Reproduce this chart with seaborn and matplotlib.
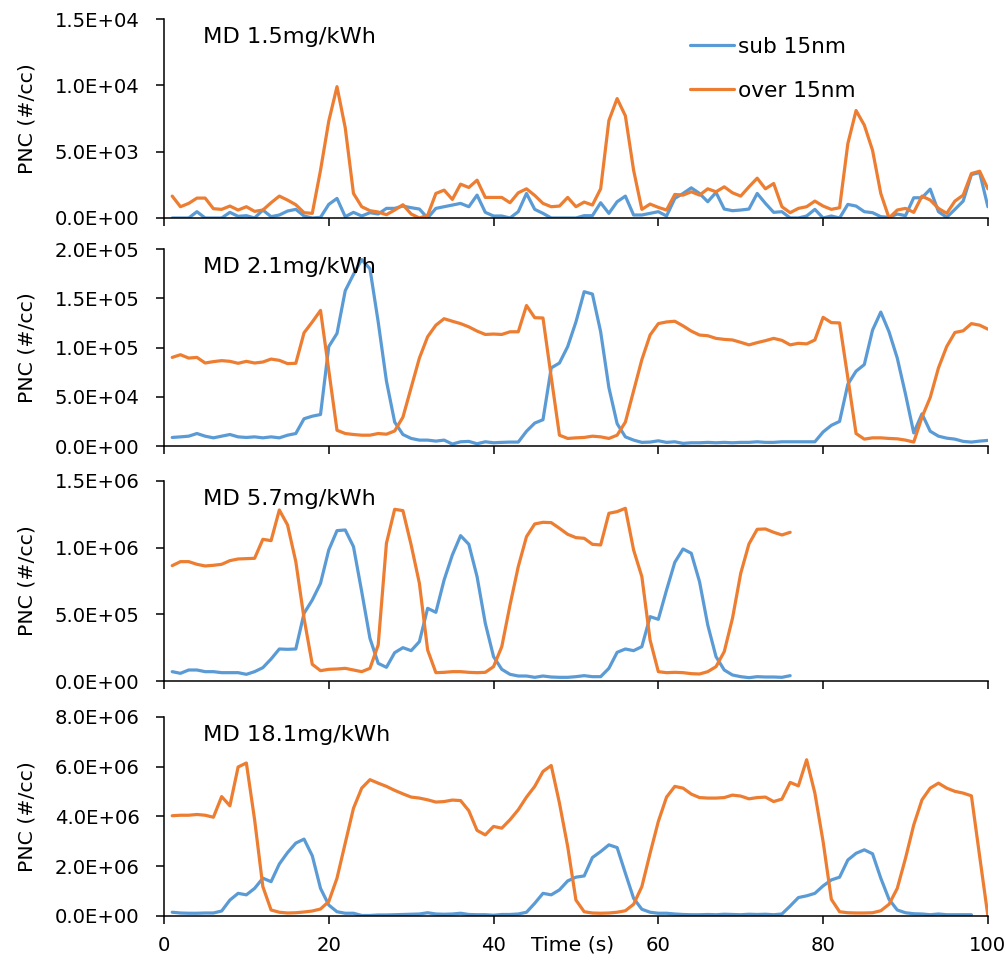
import numpy as np
import pandas as pd
import matplotlib
matplotlib.use("Agg")
import matplotlib.pyplot as plt
import seaborn as sns

# time axis (s)
time = np.arange(1, 101)

# MD 1.5mg/kWh
sub_1 = [0, 0, 0, 475, 0, 0, 0, 425, 125, 175,
         0, 600, 100, 225, 525, 650, 150, 0, 50, 1025,
         1475, 100, 425, 150, 400, 300, 725, 725, 900, 775,
         675, 0, 725, 850, 975, 1100, 850, 1725, 425, 150,
         150, 0, 475, 1850, 650, 350, 0, 0, 0, 0,
         175, 175, 1150, 350, 1225, 1650, 225, 225, 350, 475,
         150, 1475, 1850, 2275, 1850, 1225, 1925, 675, 550, 600,
         675, 1850, 1100, 425, 475, 0, 0, 150, 650, 0,
         150, 0, 1025, 900, 475, 400, 100, 50, 300, 175,
         1525, 1525, 2175, 475, 50, 650, 1275, 3275, 3425, 850]
over_1 = [1650, 850, 1100, 1500, 1500, 700, 650, 900, 600, 850,
          500, 600, 1150, 1650, 1350, 1000, 400, 350, 3600, 7300,
          9900, 6800, 1850, 850, 550, 450, 250, 600, 1000, 300,
          0, 200, 1850, 2100, 1400, 2550, 2300, 2850, 1550, 1550,
          1550, 1150, 1900, 2200, 1700, 1100, 850, 900, 1550, 850,
          1200, 975, 2200, 7350, 9000, 7700, 3600, 650, 1050, 800,
          600, 1775, 1725, 1975, 1725, 2200, 1975, 2350, 1900, 1650,
          2350, 3000, 2200, 2600, 850, 400, 725, 850, 1275, 900,
          650, 775, 5600, 8100, 7000, 5100, 1850, 0, 600, 725,
          425, 1650, 1350, 725, 350, 1275, 1725, 3350, 3525, 2200]

# MD 2.1mg/kWh
sub_2 = [8700, 9300, 10000, 12700, 10000, 8300, 10000, 11700, 9300, 8700,
         9300, 8300, 9300, 8300, 11000, 12700, 27700, 30300, 32000, 101000,
         114300, 157700, 174300, 189300, 180000, 126000, 66000, 24300, 11700, 7700,
         6000, 6000, 5000, 6000, 2000, 4300, 4700, 2300, 4300, 3300,
         3700, 4000, 4000, 15000, 23300, 26700, 79300, 84300, 101000, 126000,
         156700, 154300, 116000, 59300, 22700, 9300, 6000, 3700, 4000, 5300,
         3700, 4300, 2700, 3300, 3300, 3700, 3300, 3700, 3300, 3700,
         3700, 4300, 3700, 3700, 4300, 4300, 4300, 4300, 4300, 14300,
         21000, 25000, 62700, 76000, 82700, 117700, 136000, 116000, 89300, 52700,
         13300, 32700, 15000, 10000, 8000, 7000, 4700, 4000, 5000, 5700]
over_2 = [90000, 92700, 89300, 90000, 84300, 85700, 86700, 86000, 84000, 86000,
          84300, 85300, 88300, 87000, 83700, 84000, 115000, 126000, 137700, 77000,
          16000, 12700, 11700, 11000, 11000, 12700, 12000, 15300, 29300, 59300,
          89300, 111000, 122700, 129300, 126700, 124300, 121000, 116700, 113300, 113700,
          113300, 116000, 116000, 142700, 130300, 130000, 70000, 11000, 7700, 8300,
          8700, 10000, 9300, 7700, 11000, 24300, 56000, 87700, 112700, 124300,
          126000, 126700, 122000, 116700, 112700, 112000, 109300, 108300, 107700, 105300,
          102700, 105000, 107000, 109300, 107300, 102700, 104300, 103700, 107700, 130700,
          125300, 125000, 69300, 12700, 7000, 8300, 8300, 7700, 7300, 6000,
          4000, 29300, 49300, 79300, 101000, 115300, 117000, 124300, 122700, 118700]

# MD 5.7mg/kWh (76 s recorded)
sub_3 = [70000, 57500, 82500, 82500, 70000, 70000, 62500, 62500, 62500, 50000,
         70000, 100000, 165000, 240000, 237500, 240000, 507500, 607500, 732500, 982500,
         1127500, 1132500, 1007500, 670000, 320000, 132500, 102500, 212500, 250000, 227500,
         295000, 545000, 515000, 757500, 945000, 1090000, 1025000, 782500, 432500, 182500,
         87500, 50000, 37500, 37500, 27500, 37500, 30000, 27500, 27500, 32500,
         40000, 32500, 32500, 95000, 215000, 240000, 227500, 257500, 482500, 462500,
         682500, 890000, 990000, 957500, 745000, 420000, 182500, 82500, 45000, 32500,
         25000, 32500, 30000, 30000, 27500, 40000]
over_3 = [865000, 895000, 895000, 875000, 862500, 867500, 875000, 902500, 915000, 917500,
          920000, 1062500, 1052500, 1282500, 1170000, 895000, 470000, 125000, 77500, 87500,
          90000, 95000, 82500, 70000, 95000, 270000, 1032500, 1287500, 1277500, 1020000,
          732500, 232500, 62500, 65000, 70000, 70000, 65000, 62500, 65000, 107500,
          257500, 570000, 857500, 1082500, 1177500, 1190000, 1187500, 1145000, 1100000, 1075000,
          1070000, 1025000, 1020000, 1257500, 1270000, 1295000, 982500, 782500, 307500, 70000,
          62500, 65000, 62500, 55000, 52500, 70000, 107500, 220000, 470000, 807500,
          1027500, 1137500, 1140000, 1115000, 1095000, 1115000]

# MD 18.1mg/kWh (values in millions)
sub_4 = [0.15, 0.12, 0.11, 0.11, 0.12, 0.12, 0.20, 0.64, 0.91, 0.85,
         1.11, 1.52, 1.38, 2.09, 2.55, 2.93, 3.09, 2.42, 1.11, 0.44,
         0.17, 0.11, 0.11, 0.02, 0.02, 0.04, 0.04, 0.05, 0.06, 0.07,
         0.08, 0.13, 0.08, 0.07, 0.08, 0.11, 0.06, 0.05, 0.05, 0.03,
         0.06, 0.06, 0.08, 0.15, 0.51, 0.91, 0.85, 1.05, 1.41, 1.56,
         1.61, 2.35, 2.59, 2.86, 2.75, 1.72, 0.71, 0.27, 0.15, 0.11,
         0.11, 0.08, 0.06, 0.05, 0.05, 0.06, 0.05, 0.07, 0.06, 0.05,
         0.07, 0.06, 0.07, 0.05, 0.08, 0.40, 0.74, 0.81, 0.91, 1.21,
         1.45, 1.56, 2.25, 2.52, 2.66, 2.50, 1.52, 0.67, 0.24, 0.13,
         0.09, 0.08, 0.05, 0.08, 0.05, 0.05, 0.05, 0.05]
over_4 = [4.03, 4.05, 4.05, 4.08, 4.05, 3.97, 4.80, 4.43, 5.99, 6.15,
          3.87, 1.18, 0.24, 0.15, 0.12, 0.13, 0.16, 0.20, 0.28, 0.58,
          1.52, 2.93, 4.33, 5.14, 5.48, 5.34, 5.21, 5.05, 4.91, 4.78,
          4.74, 4.67, 4.58, 4.60, 4.66, 4.64, 4.23, 3.44, 3.26, 3.60,
          3.53, 3.87, 4.27, 4.78, 5.21, 5.81, 6.05, 4.54, 2.79, 0.64,
          0.17, 0.12, 0.11, 0.12, 0.15, 0.21, 0.47, 1.18, 2.52, 3.80,
          4.78, 5.21, 5.14, 4.90, 4.76, 4.74, 4.74, 4.76, 4.86, 4.82,
          4.71, 4.76, 4.78, 4.60, 4.70, 5.37, 5.23, 6.28, 4.94, 2.99,
          0.67, 0.17, 0.13, 0.12, 0.12, 0.13, 0.21, 0.47, 1.11, 2.32,
          3.66, 4.67, 5.14, 5.34, 5.14, 5.01, 4.94, 4.83, 2.40, 0.0]
sub_4 = [v * 1e6 for v in sub_4]
over_4 = [v * 1e6 for v in over_4]

titles = ["MD 1.5mg/kWh", "MD 2.1mg/kWh", "MD 5.7mg/kWh", "MD 18.1mg/kWh"]
y_max = [1.5e4, 2.0e5, 1.5e6, 8.0e6]
y_step = [5e3, 5e4, 5e5, 2e6]
series_names = ["sub 15nm", "over 15nm"]
colors = {"sub 15nm": "#5B9BD5", "over 15nm": "#ED7D31"}

sns.set_style("ticks")
plt.rcParams["font.family"] = ["DejaVu Sans"]
plt.rcParams["text.color"] = "black"
plt.rcParams["axes.labelcolor"] = "black"

fig = plt.figure(figsize=(10.06, 9.65), dpi=100)

# axes boxes in figure fractions (left, bottom, width, height)
boxes = [(0.163, 0.7741, 0.819, 0.2062),
         (0.163, 0.5378, 0.819, 0.2041),
         (0.163, 0.2943, 0.819, 0.2073),
         (0.163, 0.0508, 0.819, 0.2062)]
panels = [(sub_1, over_1), (sub_2, over_2), (sub_3, over_3), (sub_4, over_4)]

for k, (sub, over) in enumerate(panels):
    ax = fig.add_axes(boxes[k])
    df = pd.concat([
        pd.DataFrame({"t": time[:len(sub)], "pnc": sub, "size": series_names[0]}),
        pd.DataFrame({"t": time[:len(over)], "pnc": over, "size": series_names[1]}),
    ])
    sns.lineplot(data=df, x="t", y="pnc", hue="size", palette=colors,
                 linewidth=2.3, ax=ax, legend=(k == 0))

    ax.set_xlim(0, 100)
    ax.set_ylim(0, y_max[k])
    ax.set_xticks(np.arange(0, 101, 20))
    ax.set_yticks(np.arange(0, y_max[k] + 1, y_step[k]))
    ax.yaxis.set_major_formatter(lambda v, pos: f"{v:.1E}")
    sns.despine(ax=ax)
    for s in ["left", "bottom"]:
        ax.spines[s].set_linewidth(1.1)
        ax.spines[s].set_color("black")
    ax.tick_params(axis="both", length=5.5, width=1.1, colors="black", labelsize=14.1)
    ax.tick_params(axis="y", pad=12)
    ax.tick_params(axis="x", pad=9)
    ax.set_ylabel("PNC (#/cc)", fontsize=14.7)
    ax.yaxis.set_label_coords(-0.155, 0.5)
    if k < 3:
        ax.tick_params(axis="x", labelbottom=False)
        ax.set_xlabel("")
    else:
        ax.set_xlabel("Time (s)", fontsize=14.7)
        ax.xaxis.set_label_coords(0.496, -0.1)
    ax.text(0.047, 0.91, titles[k], transform=ax.transAxes, fontsize=16.2,
            va="center", ha="left")
    if k == 0:
        ax.legend(frameon=False, loc="upper left", bbox_to_anchor=(0.638, 0.91),
                  fontsize=15.6, handlelength=2.05, handletextpad=0.18,
                  labelspacing=1.1, borderpad=0, borderaxespad=0, title=None)

fig.savefig("out.png", dpi=100)
